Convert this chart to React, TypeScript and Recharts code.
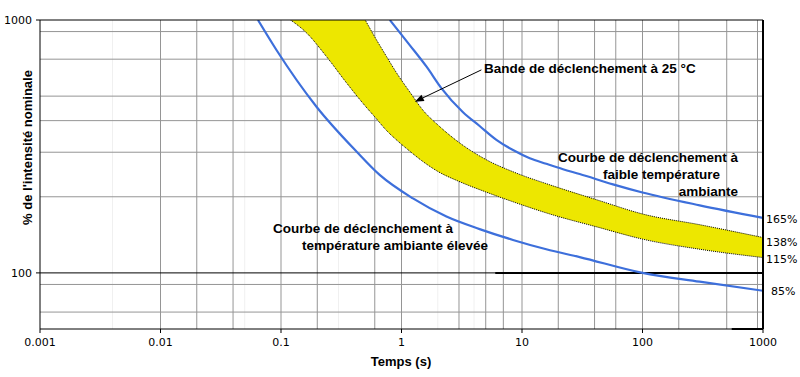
import React from 'react';
import {
  ComposedChart,
  Line,
  Area,
  XAxis,
  YAxis,
  CartesianGrid,
  ReferenceLine
} from 'recharts';

// Trip curves (time in s, current in % of nominal)
const timeHighTemp = [0.0644, 0.0917, 0.197, 0.423, 0.659, 1.245, 2.36, 4.45, 8.42, 15.9, 30.1, 100, 298, 1000];
const pctHighTemp = [1000, 761, 454, 302, 244, 197, 167, 149, 135, 124, 115.5, 100, 92.3, 85];

const timeLowTemp = [0.8, 1.17, 1.62, 2.14, 3.24, 4.45, 6.13, 8.42, 11.6, 15.9, 21.9, 30.1, 56.9, 100, 298, 1000];
const pctLowTemp = [1000, 796, 652, 538, 432, 381, 336, 306, 284, 270, 257, 246, 224, 208, 185, 165];

// Trip band at 25 °C (upper edge runs off the top of the chart below 0.5 s)
const bandTime = [0.12, 0.16, 0.24, 0.35, 0.5, 0.6, 0.75, 0.9, 1.2, 1.5, 2, 3, 5, 9, 17, 44, 100, 300, 1000];
const bandUpper = [3500, 2700, 1900, 1360, 1000, 857, 718, 623, 511, 441, 385, 328, 281, 248, 223, 193, 171, 155, 138];
const bandLower = [1000, 897, 714, 564, 457, 414, 366, 337, 300, 276, 252, 230, 209, 189, 171, 151, 136, 124, 115];

const xTicks = [0.001, 0.01, 0.1, 1, 10, 100, 1000];
const yTicks = [100, 1000];

const gridX = [0.005, 0.006, 0.007, 0.008, 0.01, 0.02, 0.04, 0.06, 0.07, 0.08, 0.09, 0.1, 0.2, 0.4, 0.5, 0.6, 0.7, 0.8, 0.9, 1, 3, 5, 6, 7, 8, 9, 10, 20, 30, 40, 50, 60, 70, 80, 90, 100, 200, 300, 400, 500, 600, 700, 800, 900];
const gridXFaint = [0.002, 0.003, 0.004, 0.03, 0.05, 0.3, 2, 4];
const gridY = [70, 80, 90, 200, 300, 400, 500, 600, 700, 800, 900];

const highTempData = timeHighTemp.map((t, i) => ({ t, v: pctHighTemp[i] }));
const lowTempData = timeLowTemp.map((t, i) => ({ t, v: pctLowTemp[i] }));
const bandData = bandTime.map((t, i) => ({ t, range: [bandLower[i], bandUpper[i]] }));

const BLUE = '#3d6fdb';
const YELLOW = '#ede700';
const tickStyle = { fontFamily: '"DejaVu Sans", sans-serif', fontSize: 11, fill: '#000' };

const ArrowShape = (props: any) => {
  const { x1, y1, x2, y2 } = props;
  if ([x1, y1, x2, y2].some(v => v == null || isNaN(v))) return null;
  const ang = Math.atan2(y2 - y1, x2 - x1);
  const len = 9;
  const half = 3.5;
  const bx = x2 - len * Math.cos(ang);
  const by = y2 - len * Math.sin(ang);
  const pts = [
    [x2, y2],
    [bx + half * Math.sin(ang), by - half * Math.cos(ang)],
    [bx - half * Math.sin(ang), by + half * Math.cos(ang)]
  ].map(p => p.join(',')).join(' ');
  return (
    <g>
      <line x1={x1} y1={y1} x2={bx} y2={by} stroke="#000" strokeWidth={1} />
      <polygon points={pts} fill="#000" />
    </g>
  );
};

export default function App() {
  return (
    <div style={{ position: 'absolute', left: 0, top: 0, width: 800, height: 377, background: '#fff' }}>
      <ComposedChart width={800} height={377} margin={{ top: 20, right: 37, bottom: 18, left: 0 }}>
        <CartesianGrid stroke="#f0f0f0" horizontal={false} verticalValues={gridXFaint} />
        <CartesianGrid stroke="#959595" horizontalValues={gridY} verticalValues={gridX} />
        <XAxis
          dataKey="t"
          type="number"
          scale="log"
          domain={[0.001, 1000]}
          ticks={xTicks}
          allowDataOverflow
          height={30}
          tickSize={4}
          tickMargin={5}
          tick={tickStyle}
          tickFormatter={(v: number) => String(v)}
          axisLine={{ stroke: '#000' }}
          tickLine={{ stroke: '#000' }}
        />
        <YAxis
          type="number"
          scale="log"
          domain={[60, 1000]}
          ticks={yTicks}
          allowDataOverflow
          width={40}
          tickSize={4}
          tickMargin={4}
          tick={tickStyle}
          axisLine={{ stroke: '#000' }}
          tickLine={{ stroke: '#000' }}
        />
        <ReferenceLine y={100} stroke="#000" strokeWidth={1} />
        <ReferenceLine segment={[{ x: 6, y: 100 }, { x: 1000, y: 100 }]} stroke="#000" strokeWidth={2} />
        <ReferenceLine segment={[{ x: 550, y: 60 }, { x: 1000, y: 60 }]} stroke="#000" strokeWidth={2} />

        <Area
          data={bandData}
          dataKey="range"
          type="monotone"
          fill={YELLOW}
          fillOpacity={1}
          stroke="#000"
          strokeWidth={1}
          strokeDasharray="1 1"
          isAnimationActive={false}
        />
        <Line data={highTempData} dataKey="v" type="monotone" stroke={BLUE} strokeWidth={2.2} dot={false} isAnimationActive={false} />
        <Line data={lowTempData} dataKey="v" type="monotone" stroke={BLUE} strokeWidth={2.2} dot={false} isAnimationActive={false} />

        <ReferenceLine y={1000} stroke="#000" strokeWidth={1} />
        <ReferenceLine x={1000} stroke="#000" strokeWidth={2} />
        <ReferenceLine segment={[{ x: 4.6, y: 635 }, { x: 1.29, y: 475 }]} shape={ArrowShape} />
      </ComposedChart>

      <svg
        width={800}
        height={377}
        style={{ position: 'absolute', left: 0, top: 0, pointerEvents: 'none' }}
        fontFamily='"Liberation Sans", Arial, sans-serif'
        fontWeight="bold"
        fontSize={13.5}
        fill="#000"
      >
        <text transform="translate(32,147.5) rotate(-90)" textAnchor="middle" fontSize={13}>% de l'intensité nominale</text>
        <text x={401} y={366} textAnchor="middle" fontSize={13}>Temps (s)</text>
        <text x={484} y={73}>Bande de déclenchement à 25 °C</text>
        <text x={738} y={162} textAnchor="end">Courbe de déclenchement à</text>
        <text x={720} y={179} textAnchor="end">faible température</text>
        <text x={738} y={196} textAnchor="end">ambiante</text>
        <text x={273} y={233}>Courbe de déclenchement à</text>
        <text x={302} y={250}>température ambiante élevée</text>
        <g fontFamily='"DejaVu Sans", sans-serif' fontWeight="normal" fontSize={11}>
          <text x={766} y={223}>165%</text>
          <text x={766} y={245.5}>138%</text>
          <text x={766} y={263}>115%</text>
          <text x={771} y={295}>85%</text>
        </g>
      </svg>
    </div>
  );
}
